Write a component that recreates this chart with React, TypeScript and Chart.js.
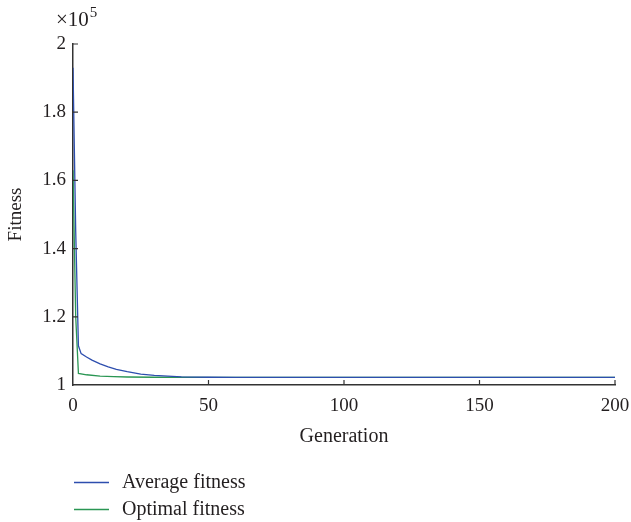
import React, { useEffect, useRef } from "react";
import { Chart, registerables } from "chart.js";

Chart.register(...registerables);

// Generations (sparse sample points)
const avgGenerations = [0, 1, 2, 3, 5, 7, 10, 13, 16, 20, 25, 30, 35, 40, 50, 60, 80, 100, 150, 200];
// Average fitness (x10^5)
const avgFitness = [1.93, 1.45, 1.115, 1.092, 1.082, 1.073, 1.062, 1.053, 1.046, 1.039, 1.032, 1.028, 1.026, 1.024, 1.0228, 1.0225, 1.0223, 1.0222, 1.0222, 1.0222];

const optGenerations = [0, 1, 2, 5, 10, 15, 20, 30, 50, 100, 150, 200];
// Optimal fitness (x10^5)
const optFitness = [1.63, 1.2, 1.034, 1.03, 1.026, 1.0245, 1.0235, 1.0228, 1.0223, 1.0222, 1.0222, 1.0222];

const xTicks = [0, 50, 100, 150, 200];
const yTicks = [1, 1.2, 1.4, 1.6, 1.8, 2];

const seriesNames = ["Average fitness", "Optimal fitness"];
const seriesColors = ["#2d4eae", "#2a9653"];

const FONT = "'Liberation Serif', 'Times New Roman', serif";
const AXIS_COLOR = "#333333";
const TEXT_COLOR = "#231f20";

const extrasPlugin = {
  id: "extras",
  afterDraw(chart: any) {
    const { ctx, chartArea, scales } = chart;
    const xs = scales.x;
    const ys = scales.y;
    ctx.save();
    // inward ticks
    ctx.strokeStyle = AXIS_COLOR;
    ctx.lineWidth = 1.2;
    ctx.beginPath();
    xTicks.forEach((v) => {
      if (v === 0) return;
      const px = xs.getPixelForValue(v);
      ctx.moveTo(px, chartArea.bottom);
      ctx.lineTo(px, chartArea.bottom - 5);
    });
    yTicks.forEach((v) => {
      if (v === 1) return;
      const py = ys.getPixelForValue(v);
      ctx.moveTo(chartArea.left, py);
      ctx.lineTo(chartArea.left + 5, py);
    });
    ctx.stroke();

    // exponent label
    ctx.fillStyle = TEXT_COLOR;
    ctx.textBaseline = "alphabetic";
    ctx.textAlign = "left";
    ctx.font = `21px ${FONT}`;
    ctx.fillText("\u00d710", 56, 26);
    const w = ctx.measureText("\u00d710").width;
    ctx.font = `15px ${FONT}`;
    ctx.fillText("5", 56 + w + 1, 17);

    // legend
    ctx.font = `20px ${FONT}`;
    ctx.textBaseline = "middle";
    const rows = [482.5, 509.5];
    rows.forEach((y, i) => {
      ctx.strokeStyle = seriesColors[i];
      ctx.lineWidth = 1.3;
      ctx.beginPath();
      ctx.moveTo(74, y);
      ctx.lineTo(109, y);
      ctx.stroke();
      ctx.fillStyle = TEXT_COLOR;
      ctx.fillText(seriesNames[i], 122, y);
    });
    ctx.restore();
  },
};

export default function App() {
  const canvasRef = useRef<HTMLCanvasElement | null>(null);

  useEffect(() => {
    if (!canvasRef.current) return;
    const chart = new Chart(canvasRef.current, {
      type: "line",
      data: {
        datasets: [
          {
            label: seriesNames[0],
            data: avgGenerations.map((g, i) => ({ x: g, y: avgFitness[i] })),
            borderColor: seriesColors[0],
            borderWidth: 1.3,
            pointRadius: 0,
            tension: 0,
            fill: false,
          },
          {
            label: seriesNames[1],
            data: optGenerations.map((g, i) => ({ x: g, y: optFitness[i] })),
            borderColor: seriesColors[1],
            borderWidth: 1.3,
            pointRadius: 0,
            tension: 0,
            fill: false,
          },
        ],
      },
      options: {
        animation: false,
        responsive: false,
        devicePixelRatio: 1,
        layout: { padding: { left: 0, right: 16, top: 44, bottom: 70 } },
        plugins: {
          legend: { display: false },
          tooltip: { enabled: false },
        },
        scales: {
          x: {
            type: "linear",
            min: 0,
            max: 200,
            afterBuildTicks: (scale: any) => {
              scale.ticks = xTicks.map((v) => ({ value: v }));
            },
            afterFit: (scale: any) => {
              scale.height = 67;
              scale.paddingRight = 0;
              scale.paddingLeft = 0;
            },
            grid: { display: false, drawTicks: false },
            border: { display: true, color: AXIS_COLOR, width: 1.5 },
            ticks: {
              padding: 10,
              color: TEXT_COLOR,
              font: { family: FONT, size: 19 },
              maxRotation: 0,
              callback: (v: any) => String(v),
            },
            title: {
              display: true,
              text: "Generation",
              color: TEXT_COLOR,
              font: { family: FONT, size: 20 },
              padding: { top: 0, bottom: 3 },
            },
          },
          y: {
            type: "linear",
            min: 1,
            max: 2,
            afterBuildTicks: (scale: any) => {
              scale.ticks = yTicks.map((v) => ({ value: v }));
            },
            afterFit: (scale: any) => {
              scale.width = 73;
              scale.paddingTop = 0;
              scale.paddingBottom = 0;
            },
            grid: { display: false, drawTicks: false },
            border: { display: true, color: AXIS_COLOR, width: 1.5 },
            ticks: {
              padding: 7,
              color: TEXT_COLOR,
              font: { family: FONT, size: 19 },
              callback: (v: any) => String(Math.round(Number(v) * 10) / 10),
            },
            title: {
              display: true,
              text: "Fitness",
              color: TEXT_COLOR,
              font: { family: FONT, size: 19 },
              padding: { top: 5, bottom: 0 },
            },
          },
        },
      },
      plugins: [extrasPlugin],
    });
    return () => chart.destroy();
  }, []);

  return (
    <div style={{ position: "fixed", left: 0, top: 0, width: 631, height: 522, background: "#fff" }}>
      <canvas ref={canvasRef} width={631} height={522} style={{ width: 631, height: 522, display: "block" }} />
    </div>
  );
}
